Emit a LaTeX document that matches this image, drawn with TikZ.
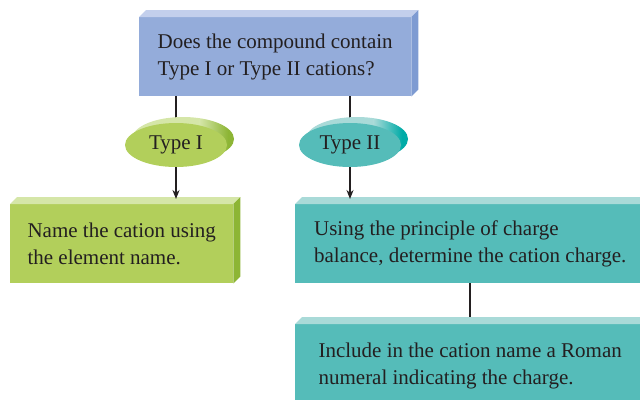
\documentclass[tikz,border=0pt]{standalone}
\usepackage{fontspec}
\setmainfont{Liberation Serif}
\usetikzlibrary{calc,shapes.geometric,arrows.meta,backgrounds}
\definecolor{ink}{HTML}{231F20}
\definecolor{bluefront}{HTML}{94ACDA}
\definecolor{bluetop}{HTML}{C3CFEC}
\definecolor{blueside}{HTML}{7E9BD2}
\definecolor{greenfront}{HTML}{B2CF5B}
\definecolor{greentop}{HTML}{D5E6A8}
\definecolor{greenside}{HTML}{8DB535}
\definecolor{tealfront}{HTML}{55BCB9}
\definecolor{tealtop}{HTML}{A9DAD8}
\definecolor{tealside}{HTML}{00ABA7}
\begin{document}
\begin{tikzpicture}[x=1pt,y=-1pt,
  txt/.style={font=\fontsize{21}{27}\selectfont, text=ink, align=left},
  box/.style={txt, rectangle, inner sep=0pt, anchor=north west},
  oval/.style={txt, ellipse, minimum width=102pt, minimum height=44pt, inner sep=0pt},
  conn/.style={draw=ink, line width=1.5pt},
  arr/.style={conn, -{Stealth[length=9pt,width=7pt]}}]
\useasboundingbox (0,0) rectangle (640,399);
\clip (0,0) rectangle (640,399);

% question box
\node[box, fill=bluefront, minimum width=272pt, minimum height=79pt] (q) at (139,17)
  {Does the compound contain\\Type I or Type II cations?};
\fill[bluetop] (q.north west) -- ++(7,-7) -- ($(q.north east)+(7,-7)$) -- (q.north east) -- cycle;
\fill[blueside] (q.north east) -- ++(7,-7) -- ($(q.south east)+(7,-7)$) -- (q.south east) -- cycle;

% ellipse backs
\begin{scope}
  \clip (183,139) ellipse [x radius=51, y radius=22];
  \fill[greentop] (120,100) rectangle (200,190);
  \shade[left color=greentop, right color=greenside] (199.5,100) rectangle (228,190);
  \fill[greenside] (227.5,100) rectangle (240,190);
\end{scope}
\begin{scope}
  \clip (357,139) ellipse [x radius=51, y radius=22];
  \fill[tealtop] (290,100) rectangle (374,190);
  \shade[left color=tealtop, right color=tealside] (373.5,100) rectangle (402,190);
  \fill[tealside] (401.5,100) rectangle (412,190);
\end{scope}

% ellipses
\node[oval, fill=greenfront] (t1) at (176,145) {Type I};
\node[oval, fill=tealfront] (t2) at (350,145) {Type II};

% result boxes
\node[box, fill=greenfront, minimum width=223pt, minimum height=79pt] (n1) at (10,204)
  {Name the cation using\\the element name.};
\fill[greentop] (n1.north west) -- ++(7,-7) -- ($(n1.north east)+(7,-7)$) -- (n1.north east) -- cycle;
\fill[greenside] (n1.north east) -- ++(7,-7) -- ($(n1.south east)+(7,-7)$) -- (n1.south east) -- cycle;

\node[box, fill=tealfront, minimum width=350pt, minimum height=79pt] (n2) at (295,204)
  {Using the principle of charge\\balance, determine the cation charge.};
\fill[tealtop] (n2.north west) -- ++(7,-7) -- ($(n2.north east)+(7,-7)$) -- (n2.north east) -- cycle;

\node[box, fill=tealfront, minimum width=350pt, minimum height=84pt] (n3) at (295,324)
  {Include in the cation name a Roman\\numeral indicating the charge.};
\fill[tealtop] (n3.north west) -- ++(7,-7) -- ($(n3.north east)+(7,-7)$) -- (n3.north east) -- cycle;

% connectors
\begin{pgfonlayer}{background}
  \draw[conn] (q.south -| t1) -- (t1);
  \draw[conn] (q.south -| t2) -- (t2);
  \draw[conn] (n2.south) -- (n3.north);
\end{pgfonlayer}
\draw[arr] (t1.south) -- ($(t1.south |- n1.north)+(0,-5)$);
\draw[arr] (t2.south) -- ($(t2.south |- n2.north)+(0,-5)$);
\end{tikzpicture}
\end{document}
